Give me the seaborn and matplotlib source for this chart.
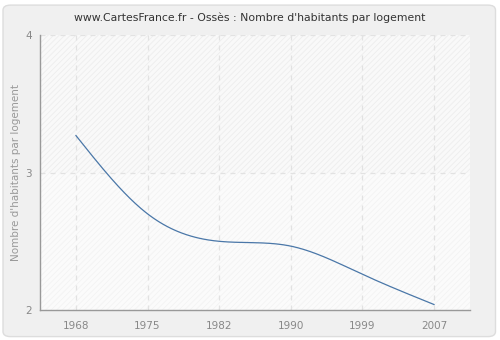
import numpy as np
import pandas as pd
import matplotlib
matplotlib.use("Agg")
import matplotlib.pyplot as plt
from matplotlib.patches import FancyBboxPatch, Rectangle
import seaborn as sns

years = ["1968", "1975", "1982", "1990", "1999", "2007"]
values = [3.27, 2.70, 2.50, 2.465, 2.26, 2.04]
title = "www.CartesFrance.fr - Ossès : Nombre d'habitants par logement"
ylabel = "Nombre d'habitants par logement"

sns.set_theme(style="white")
plt.rcParams["font.family"] = ["DejaVu Sans"]
plt.rcParams["hatch.linewidth"] = 0.6

def natural_spline(x, y, n=400):
    x = np.asarray(x, float); y = np.asarray(y, float)
    k = len(x); h = np.diff(x)
    A = np.zeros((k, k)); b = np.zeros(k)
    A[0, 0] = A[-1, -1] = 1
    for i in range(1, k - 1):
        A[i, i - 1] = h[i - 1]; A[i, i] = 2 * (h[i - 1] + h[i]); A[i, i + 1] = h[i]
        b[i] = 3 * ((y[i + 1] - y[i]) / h[i] - (y[i] - y[i - 1]) / h[i - 1])
    c = np.linalg.solve(A, b)
    xs = np.linspace(x[0], x[-1], n); ys = np.empty_like(xs)
    for j, xv in enumerate(xs):
        i = min(np.searchsorted(x, xv, side="right") - 1, k - 2)
        dx = xv - x[i]
        bi = (y[i + 1] - y[i]) / h[i] - h[i] * (2 * c[i] + c[i + 1]) / 3
        di = (c[i + 1] - c[i]) / (3 * h[i])
        ys[j] = y[i] + bi * dx + c[i] * dx ** 2 + di * dx ** 3
    return xs, ys

pos = np.arange(len(years))
xs, ys = natural_spline(pos, values)
df = pd.DataFrame({"x": xs, "y": ys})

fig = plt.figure(figsize=(5, 3.4), dpi=100)
fig.patch.set_facecolor("white")
bg = FancyBboxPatch((0.006, 0.01), 0.985, 0.975, boxstyle="round,pad=0,rounding_size=0.015",
                    transform=fig.transFigure, facecolor="#f0f0f0", edgecolor="#dddddd", lw=1, zorder=-10)
fig.patches.append(bg)
ax = fig.add_axes([0.08, 0.088, 0.86, 0.809])
ax.set_zorder(1)
ax.set_facecolor("#fcfcfc")
ax.set_xlim(-0.5, 5.5)
ax.set_ylim(2, 4)

ax.add_patch(Rectangle((-0.5, 3), 6, 1, facecolor="#f9f9f9", edgecolor="#ededed", hatch="//////", lw=0, zorder=0))
ax.add_patch(Rectangle((-0.5, 2), 6, 1, facecolor="#fbfbfb", edgecolor="#f3f3f3", hatch="//////", lw=0, zorder=0))

for p in pos:
    ax.axvline(p, color="#e2e2e2", lw=0.9, ls=(0, (4, 4)), zorder=1)
for yv in [3, 4]:
    ax.axhline(yv, color="#e2e2e2", lw=0.9, ls=(0, (4, 4)), zorder=1)

sns.lineplot(data=df, x="x", y="y", ax=ax, color="#4a77a8", lw=0.9, zorder=3)

ax.set_xticks(pos)
ax.set_xticklabels(years)
ax.set_yticks([2, 3, 4])
ax.set_yticklabels(["2", "3", "4"])
ax.tick_params(axis="both", colors="#888888", labelsize=7.5, length=4, width=0.9, direction="out")
ax.tick_params(axis="x", pad=4)
ax.tick_params(axis="y", pad=2)
for s in ["top", "right"]:
    ax.spines[s].set_visible(False)
for s in ["left", "bottom"]:
    ax.spines[s].set_color("#999999")
    ax.spines[s].set_linewidth(1)
ax.set_xlabel("")
ax.set_ylabel(ylabel, color="#999999", fontsize=7.5)
ax.yaxis.set_label_coords(-0.045, 0.5)
fig.text(0.5, 0.948, title, ha="center", va="center", fontsize=7.8, color="#333333")

fig.savefig("out.png", dpi=100, facecolor=fig.get_facecolor())
